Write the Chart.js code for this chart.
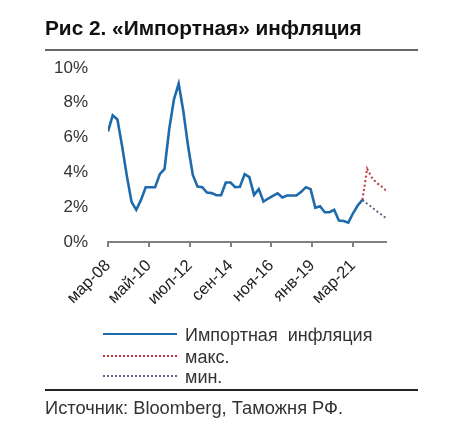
<!DOCTYPE html>
<html>
<head>
<meta charset="utf-8">
<script src="https://cdn.jsdelivr.net/npm/chart.js@4.4.0/dist/chart.umd.min.js"></script>
<style>
  body { margin: 0; background: #fff; font-family: "Liberation Sans", Arial, sans-serif; }
  #wrap { position: relative; width: 453px; height: 438px; overflow: hidden; }
  #mycanvas { position: absolute; left: 0; top: 0; }
  .title { position: absolute; left: 45px; top: 18px; font-size: 20.8px; line-height: 20px; font-weight: bold; color: #111; white-space: nowrap; }
  .rule1 { position: absolute; left: 45px; top: 49px; width: 373px; height: 2px; background: #666; }
  .rule2 { position: absolute; left: 45px; top: 389px; width: 373px; height: 1.5px; background: #222; }
  .src { position: absolute; left: 45px; top: 399px; font-size: 18.3px; line-height: 18px; color: #333; white-space: nowrap; }
  .leg { position: absolute; left: 103px; font-size: 18px; line-height: 20px; color: #333; white-space: nowrap; }
  .leg span.s { display: inline-block; width: 74px; vertical-align: middle; margin-right: 8px; position: relative; top: -2px; }
</style>
</head>
<body>
<div id="wrap">
  <canvas id="mycanvas" width="453" height="438"></canvas>
  <div class="title">Рис 2. «Импортная» инфляция</div>
  <div class="rule1"></div>
  <div class="leg" style="top:325px"><span class="s" style="border-top:2.5px solid #1f6aab"></span>Импортная&nbsp;&nbsp;инфляция</div>
  <div class="leg" style="top:347px"><span class="s" style="border-top:2px dotted #c4343c"></span>макс.</div>
  <div class="leg" style="top:367px"><span class="s" style="border-top:2px dotted #5a6488"></span>мин.</div>
  <div class="rule2"></div>
  <div class="src">Источник: Bloomberg, Таможня РФ.</div>
</div>
<script>
// quarterly points, first one is mar-08, step is 3 months
var importInfl = [6.35, 7.28, 7.04, 5.5, 3.8, 2.3, 1.85, 2.42, 3.15, 3.15,
  3.15, 3.9, 4.2, 6.5, 8.2, 9.1, 7.5, 5.5, 3.85, 3.19,
  3.15, 2.84, 2.81, 2.69, 2.69, 3.42, 3.42, 3.15, 3.17, 3.9,
  3.73, 2.71, 3.04, 2.32, 2.5, 2.65, 2.8, 2.56, 2.67, 2.67,
  2.67, 2.88, 3.15, 3.04, 1.97, 2.06, 1.71, 1.71, 1.85, 1.23,
  1.21, 1.11, 1.65, 2.1, 2.42];
// forecast from sep-21 to dec-22
var maxFc = [2.42, 4.21, 3.7, 3.4, 3.2, 2.96];
var minFc = [2.42, 2.2, 2.0, 1.78, 1.58, 1.37];
var fcStart = 54; // quarter index of sep-21

var tickMonths = [0, 26, 52, 78, 104, 130, 156];
var tickLabels = ['мар-08', 'май-10', 'июл-12', 'сен-14', 'ноя-16', 'янв-19', 'мар-21'];

function toPts(arr, start){
  var pts = [];
  for (var i = 0; i < arr.length; i++) {
    pts.push({x: (start + i) * 3, y: arr[i]});
  }
  return pts;
}

var chartdata = {
  datasets: [
    {
      label: 'Импортная инфляция',
      data: toPts(importInfl, 0),
      borderColor: '#1f6aab',
      borderWidth: 2.6,
      pointRadius: 0,
      tension: 0
    },
    {
      label: 'макс.',
      data: toPts(maxFc, fcStart),
      borderColor: '#c4343c',
      borderWidth: 2,
      borderDash: [2, 2.5],
      pointRadius: 0
    },
    {
      label: 'мин.',
      data: toPts(minFc, fcStart),
      borderColor: '#5a6488',
      borderWidth: 2,
      borderDash: [2, 2.5],
      pointRadius: 0
    }
  ]
};

var ctx = document.getElementById('mycanvas');
var lineGraph = new Chart(ctx, {
  type: 'line',
  data: chartdata,
  options: {
    responsive: false,
    animation: false,
    events: [],
    layout: { padding: { top: 68, left: 0, right: 67, bottom: 116 } },
    plugins: { legend: { display: false }, tooltip: { enabled: false } },
    scales: {
      x: {
        type: 'linear',
        min: 0,
        max: 177,
        afterFit: function(s){ s.height = 80; },
        afterBuildTicks: function(s){
          s.ticks = tickMonths.map(function(m){ return {value: m}; });
        },
        grid: { drawOnChartArea: false, drawTicks: true, tickLength: 5, color: '#808080', lineWidth: 2 },
        border: { display: true, color: '#808080', width: 2 },
        ticks: {
          autoSkip: false,
          minRotation: 45,
          maxRotation: 45,
          padding: 9,
          color: '#222',
          font: { family: 'Liberation Sans', size: 16.5 },
          callback: function(v){
            var i = tickMonths.indexOf(v);
            return i >= 0 ? tickLabels[i] : '';
          }
        }
      },
      y: {
        min: 0,
        max: 10,
        afterFit: function(s){ s.width = 108; },
        grid: { display: false, drawTicks: false },
        border: { display: false },
        ticks: {
          stepSize: 2,
          padding: 20,
          color: '#333',
          font: { family: 'Liberation Sans', size: 17 },
          callback: function(v){ return v + '%'; }
        }
      }
    }
  }
});
</script>
</body>
</html>
